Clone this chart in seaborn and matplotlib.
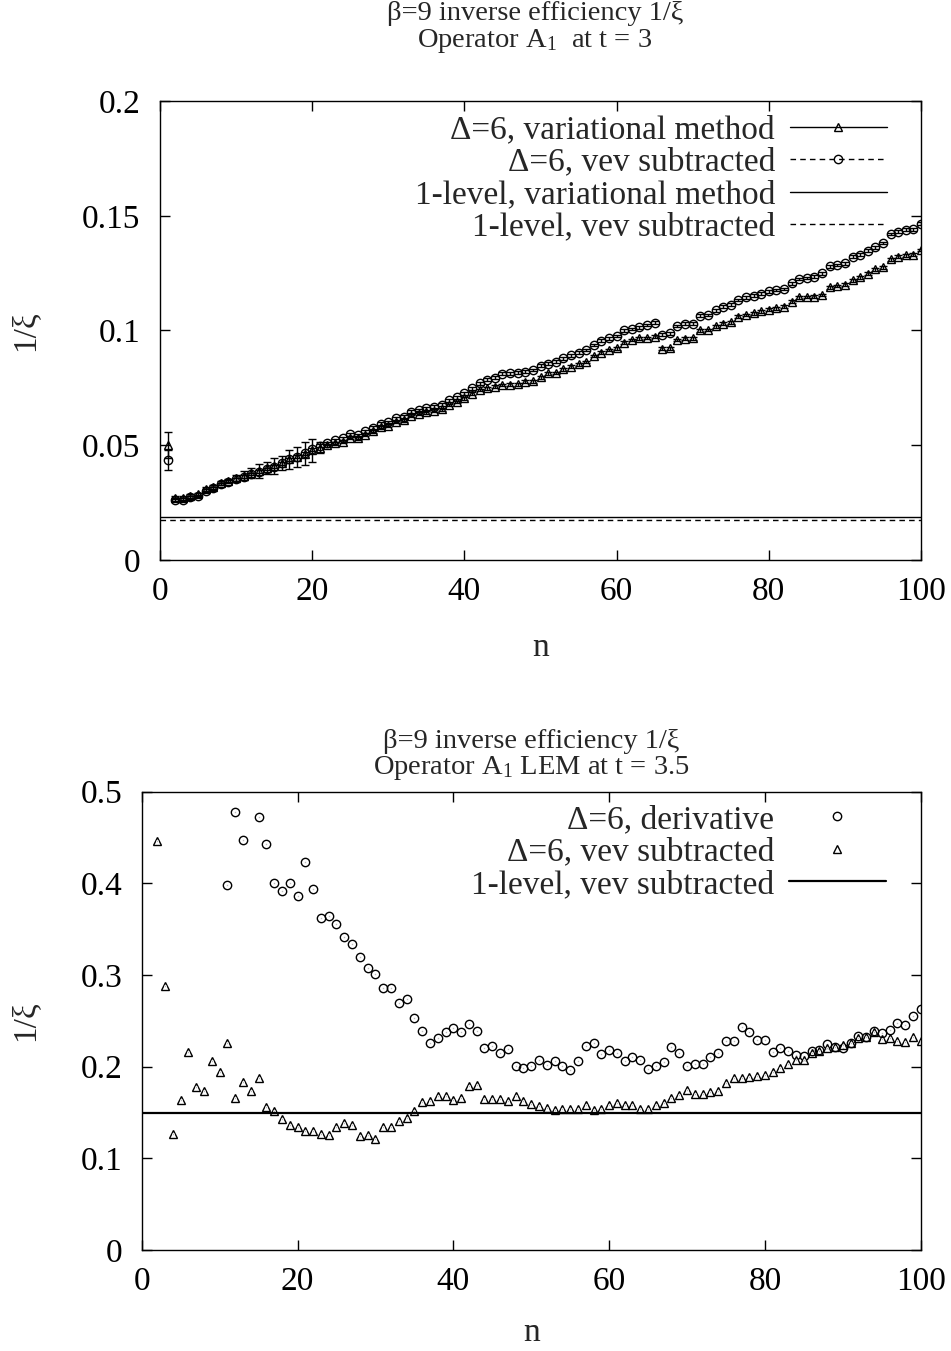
import numpy as np
import pandas as pd
import matplotlib
matplotlib.use("Agg")
import matplotlib.pyplot as plt
import seaborn as sns
from matplotlib.lines import Line2D

# ---------------- data ----------------
n_top = list(range(1, 101))
top_var = [0.0501, 0.0272, 0.0271, 0.0279, 0.0286, 0.0308, 0.0318, 0.0336, 0.0346, 0.0357,
           0.0368, 0.0379, 0.0389, 0.0400, 0.0410, 0.0423, 0.0438, 0.0449, 0.0462, 0.0478,
           0.0490, 0.0500, 0.0508, 0.0516, 0.0533, 0.0530, 0.0546, 0.0560, 0.0578, 0.0586,
           0.0601, 0.0608, 0.0629, 0.0637, 0.0643, 0.0650, 0.0657, 0.0675, 0.0688, 0.0705,
           0.0725, 0.0741, 0.0748, 0.0755, 0.0762, 0.0764, 0.0766, 0.0777, 0.0779, 0.0796,
           0.0814, 0.0815, 0.0831, 0.0843, 0.0853, 0.0863, 0.0889, 0.0904, 0.0915, 0.0923,
           0.0947, 0.0959, 0.0966, 0.0967, 0.0973, 0.0921, 0.0922, 0.0959, 0.0965, 0.0966,
           0.1000, 0.1002, 0.1018, 0.1029, 0.1036, 0.1061, 0.1068, 0.1075, 0.1083, 0.1090,
           0.1097, 0.1104, 0.1126, 0.1145, 0.1146, 0.1147, 0.1155, 0.1189, 0.1194, 0.1199,
           0.1218, 0.1232, 0.1247, 0.1267, 0.1276, 0.1311, 0.1322, 0.1327, 0.1330, 0.1351]
top_var_err = ([0.0055] + [0.0008] * 8 + [0.0012, 0.0018, 0.0020, 0.0030, 0.0025, 0.0035,
               0.0030, 0.0040, 0.0045, 0.0050, 0.0050, 0.0025] + [0.0006] * 79)
top_vev = [0.0436, 0.0262, 0.0263, 0.0273, 0.0279, 0.0302, 0.0312, 0.0331, 0.0341, 0.0352,
           0.0363, 0.0375, 0.0385, 0.0397, 0.0407, 0.0421, 0.0439, 0.0450, 0.0465, 0.0483,
           0.0498, 0.0509, 0.0521, 0.0530, 0.0548, 0.0545, 0.0560, 0.0576, 0.0594, 0.0601,
           0.0618, 0.0625, 0.0647, 0.0654, 0.0661, 0.0668, 0.0676, 0.0695, 0.0709, 0.0727,
           0.0748, 0.0770, 0.0785, 0.0795, 0.0811, 0.0814, 0.0816, 0.0821, 0.0828, 0.0846,
           0.0856, 0.0864, 0.0879, 0.0892, 0.0904, 0.0915, 0.0937, 0.0956, 0.0966, 0.0976,
           0.1000, 0.1007, 0.1014, 0.1024, 0.1034, 0.0981, 0.0988, 0.1020, 0.1029, 0.1029,
           0.1064, 0.1068, 0.1088, 0.1104, 0.1112, 0.1133, 0.1145, 0.1151, 0.1160, 0.1170,
           0.1177, 0.1181, 0.1206, 0.1224, 0.1229, 0.1235, 0.1250, 0.1279, 0.1285, 0.1293,
           0.1322, 0.1330, 0.1348, 0.1363, 0.1381, 0.1421, 0.1431, 0.1439, 0.1441, 0.1465]
top_vev_err = [0.0045] + [0.0006] * 99
top_level_var = 0.0189
top_level_vev = 0.0175

n_bot = list(range(2, 101))
bot_deriv = [np.nan] * 9 + [
    0.398, 0.478, 0.4475, np.nan, 0.4725, 0.4424, 0.4004, 0.3917, 0.400, 0.386,
    0.4228, 0.3935, 0.3623, 0.364, 0.3558, 0.341, 0.3333, 0.3196, 0.3076, 0.3007,
    0.2859, 0.2859, 0.2692, 0.2736, 0.2536, 0.2388, 0.2261, 0.2308, 0.238, 0.2417,
    0.2373, 0.247, 0.2391, 0.220, 0.2221, 0.2145, 0.2192, 0.2011, 0.1982, 0.2003,
    0.2076, 0.2022, 0.2058, 0.2011, 0.1967, 0.2065, 0.2228, 0.2257, 0.2138, 0.2181,
    0.2149, 0.2065, 0.2101, 0.2069, 0.1975, 0.2011, 0.2047, 0.221, 0.2145, 0.2007,
    0.2029, 0.2029, 0.2101, 0.2145, 0.2283, 0.2283, 0.2435, 0.2377, 0.2293, 0.2293,
    0.2156, 0.2203, 0.2167, 0.213, 0.2112, 0.2174, 0.2185, 0.2246, 0.222, 0.2207,
    0.2254, 0.233, 0.2319, 0.2384, 0.237, 0.2399, 0.2478, 0.2457, 0.2558, 0.2627]
bot_vev = [0.4457, 0.288, 0.1261, 0.1638, 0.2156, 0.1775, 0.1739, 0.2065, 0.1942,
           0.2257, 0.166, 0.183, 0.1739, 0.1873, 0.1558, 0.1514, 0.1428, 0.1359, 0.1344,
           0.1293, 0.1293, 0.1268, 0.1254, 0.1337, 0.1391, 0.1359, 0.1243, 0.1254, 0.121,
           0.134, 0.134, 0.141, 0.1442, 0.1518, 0.1612, 0.163, 0.1681, 0.1685, 0.1638,
           0.166, 0.1793, 0.1804, 0.1652, 0.1652, 0.1652, 0.1627, 0.1677, 0.1627, 0.1594,
           0.1576, 0.1551, 0.153, 0.1543, 0.1533, 0.1536, 0.1587, 0.1522, 0.1533, 0.1584,
           0.1605, 0.1584, 0.1584, 0.1533, 0.1533, 0.1587, 0.1609, 0.1656, 0.1696, 0.1743,
           0.1699, 0.1699, 0.1725, 0.173, 0.1819, 0.1874, 0.1874, 0.1888, 0.1902, 0.1913,
           0.1938, 0.1982, 0.2025, 0.2076, 0.2076, 0.2149, 0.2167, 0.2203, 0.222, 0.2239,
           0.2257, 0.2312, 0.2326, 0.2377, 0.2301, 0.2315, 0.2283, 0.2272, 0.2319, 0.2283]
bot_level_vev = 0.149

x_ticks = [0, 20, 40, 60, 80, 100]
top_yticks = [0, 0.05, 0.1, 0.15, 0.2]
top_yticklabels = ["0", "0.05", "0.1", "0.15", "0.2"]
bot_yticks = [0, 0.1, 0.2, 0.3, 0.4, 0.5]
bot_yticklabels = ["0", "0.1", "0.2", "0.3", "0.4", "0.5"]

# ---------------- style ----------------
sns.set_theme(style="ticks")
plt.rcParams["font.family"] = ["Liberation Serif", "DejaVu Serif"]
plt.rcParams["mathtext.fontset"] = "custom"
plt.rcParams["mathtext.rm"] = "Liberation Serif"
plt.rcParams["mathtext.it"] = "Liberation Serif:italic"

FS = 24
W, H = 951, 1351
fig = plt.figure(figsize=(W / 100, H / 100), dpi=100)
ax1 = fig.add_axes([160 / W, 1 - 560 / H, (921 - 160) / W, (560 - 101) / H])
ax2 = fig.add_axes([141.7 / W, 1 - 1250 / H, (920.7 - 141.7) / W, (1250 - 791.7) / H])

df_top = pd.DataFrame({"n": n_top, "var": top_var, "vev": top_vev})
df_bot = pd.DataFrame({"n": n_bot, "deriv": bot_deriv, "vev": bot_vev})

# ---- top panel ----
ax1.errorbar(df_top["n"], df_top["var"], yerr=top_var_err, fmt="none",
             ecolor="black", elinewidth=1, capsize=3, capthick=1)
ax1.errorbar(df_top["n"], df_top["vev"], yerr=top_vev_err, fmt="none",
             ecolor="black", elinewidth=1, capsize=3, capthick=1)
sns.lineplot(data=df_top, x="n", y="var", ax=ax1, estimator=None, errorbar=None,
             linestyle="", marker="^", markersize=6, markerfacecolor="none",
             markeredgecolor="black", markeredgewidth=1, color="black")
sns.lineplot(data=df_top, x="n", y="vev", ax=ax1, estimator=None, errorbar=None,
             linestyle="", marker="o", markersize=6, markerfacecolor="none",
             markeredgecolor="black", markeredgewidth=1, color="black")
ax1.axhline(top_level_var, color="black", lw=1)
ax1.axhline(top_level_vev, color="black", lw=1, ls=(0, (4, 3)))

ax1.set_xlim(0, 100)
ax1.set_ylim(0, 0.2)
ax1.set_yticks(top_yticks)
ax1.set_yticklabels(top_yticklabels)

h_top = [
    Line2D([], [], color="black", lw=1, marker="^", ms=6, mfc="none", mec="black"),
    Line2D([], [], color="black", lw=1, ls=(0, (4, 3)), marker="o", ms=6, mfc="none", mec="black"),
    Line2D([], [], color="black", lw=1),
    Line2D([], [], color="black", lw=1, ls=(0, (4, 3))),
]
l_top = ["Δ=6, variational method", "Δ=6, vev subtracted",
         "1-level, variational method", "1-level, vev subtracted"]
ax1.legend(h_top, l_top, loc="upper right", bbox_to_anchor=(0.955, 0.97),
           frameon=False, markerfirst=False, fontsize=FS, handlelength=2.9,
           handletextpad=0.45, labelspacing=0.06, borderpad=0, borderaxespad=0)

# ---- bottom panel ----
sns.lineplot(data=df_bot, x="n", y="deriv", ax=ax2, estimator=None, errorbar=None,
             linestyle="", marker="o", markersize=6, markerfacecolor="none",
             markeredgecolor="black", markeredgewidth=1, color="black")
sns.lineplot(data=df_bot, x="n", y="deriv", ax=ax2, estimator=None, errorbar=None,
             linestyle="", marker="o", markersize=1.2, color="black")
sns.lineplot(data=df_bot, x="n", y="vev", ax=ax2, estimator=None, errorbar=None,
             linestyle="", marker="^", markersize=6, markerfacecolor="none",
             markeredgecolor="black", markeredgewidth=1, color="black")
sns.lineplot(data=df_bot, x="n", y="vev", ax=ax2, estimator=None, errorbar=None,
             linestyle="", marker="o", markersize=1.2, color="black")
ax2.axhline(bot_level_vev, color="black", lw=1.6)

ax2.set_xlim(0, 100)
ax2.set_ylim(0, 0.5)
ax2.set_yticks(bot_yticks)
ax2.set_yticklabels(bot_yticklabels)

h_bot = [
    Line2D([], [], color="black", ls="", marker="o", ms=6, mfc="none", mec="black"),
    Line2D([], [], color="black", ls="", marker="^", ms=6, mfc="none", mec="black"),
    Line2D([], [], color="black", lw=1.6),
]
l_bot = ["Δ=6, derivative", "Δ=6, vev subtracted", "1-level, vev subtracted"]
ax2.legend(h_bot, l_bot, loc="upper right", bbox_to_anchor=(0.955, 0.972),
           frameon=False, markerfirst=False, fontsize=FS, handlelength=2.9,
           handletextpad=0.45, labelspacing=0.06, borderpad=0, borderaxespad=0)

for ax in (ax1, ax2):
    ax.set_xticks(x_ticks)
    ax.tick_params(axis="both", which="major", direction="in", length=7, width=1,
                   top=True, right=True, labelsize=FS, colors="black", pad=12)
    ax.tick_params(axis="y", pad=14)
    for s in ax.spines.values():
        s.set_color("black")
        s.set_linewidth(1)
    ax.set_xlabel("n", fontsize=FS)
    ax.set_ylabel("1/ξ", fontsize=FS)

ax1.xaxis.set_label_coords(0.5, -0.158)
ax2.xaxis.set_label_coords(0.5, -0.148)
ax1.yaxis.set_label_coords((40 - 160) / 761, 0.5)
ax2.yaxis.set_label_coords((40 - 141.7) / 779, 0.5)

# titles
tfs = 20.5
fig.text(535 / W, 1 - 14 / H, "β=9 inverse efficiency 1/ξ", ha="center", va="center", fontsize=tfs)
fig.text(535 / W, 1 - 41 / H, "Operator A$_1$  at t = 3", ha="center", va="center", fontsize=tfs)
fig.text(531 / W, 1 - 741 / H, "β=9 inverse efficiency 1/ξ", ha="center", va="center", fontsize=tfs)
fig.text(531 / W, 1 - 768 / H, "Operator A$_1$ LEM at t = 3.5", ha="center", va="center", fontsize=tfs)

fig.savefig("out.png", dpi=100, facecolor="white")
